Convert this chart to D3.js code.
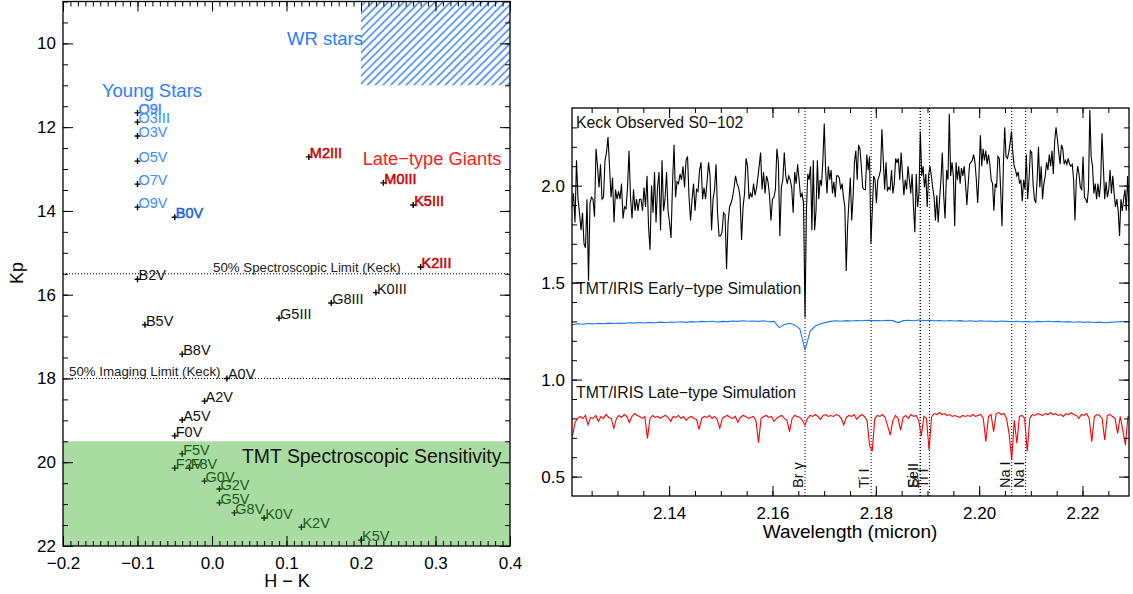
<!DOCTYPE html>
<html>
<head>
<meta charset="utf-8">
<script src="https://cdn.jsdelivr.net/npm/d3@7"></script>
<style>
  body { margin: 0; background: #fff; }
  text { font-family: "Liberation Sans", Arial, Helvetica, sans-serif; }
</style>
</head>
<body>
<svg width="1133" height="594"></svg>
<script>
// ---------- left panel data: colour (H-K) vs Kp ----------
const starNames = ["O9I","O3III","O3V","O5V","O7V","O9V","B0V",
                   "M2III","M0III","K5III","K2III",
                   "B2V","K0III","G8III","G5III","B5V","B8V","A0V","A2V","A5V","F0V",
                   "F5V","F2V","F8V","G0V","G2V","G5V","G8V","K0V","K2V","K5V"]
const starHK    = [-0.1,-0.1,-0.1,-0.1,-0.1,-0.1,-0.05,
                   0.13,0.23,0.27,0.28,
                   -0.1,0.22,0.16,0.09,-0.09,-0.04,0.02,-0.01,-0.04,-0.05,
                   -0.04,-0.05,-0.03,-0.01,0.01,0.01,0.03,0.07,0.12,0.2]
const starKp    = [11.66,11.88,12.21,12.81,13.36,13.91,14.15,
                   12.71,13.33,13.86,15.34,
                   15.63,15.95,16.2,16.56,16.72,17.42,18.0,18.54,18.99,19.37,
                   19.8,20.14,20.14,20.45,20.64,20.97,21.21,21.33,21.55,21.86]
const starGroup = ["young","young","young","young","young","young","young",
                   "giant","giant","giant","giant",
                   "field","field","field","field","field","field","field","field","field","field",
                   "tmt","tmt","tmt","tmt","tmt","tmt","tmt","tmt","tmt","tmt"]
const spectroLimitKp = 15.5
const imagingLimitKp = 18.0
const tmtLimitKp = 19.5
const wrHK = [0.2, 0.4], wrKp = [9, 11]
const hkTicks = [-0.2, -0.1, 0, 0.1, 0.2, 0.3, 0.4]
const kpTicks = [10, 12, 14, 16, 18, 20, 22]

// ---------- right panel data: K-band spectra ----------
// Keck observed S0-102
const keckFlux = [
 1.89,1.96,1.81,2.13,1.93,1.86,1.77,1.86,1.70,1.68,1.93,1.51,1.91,1.94,1.93,1.84,2.19,2.10,1.99,2.11,
 1.93,1.94,2.13,2.17,2.25,2.10,1.94,2.04,1.81,1.98,1.93,1.97,1.93,2.01,1.83,1.89,1.88,1.99,2.18,1.94,
 1.83,1.98,1.87,1.93,1.87,1.93,1.93,1.87,1.99,1.89,2.05,1.79,1.67,2.00,1.86,2.07,1.81,1.99,2.07,1.77,
 2.13,1.87,1.93,2.07,1.87,1.81,1.73,2.01,2.21,1.94,2.02,2.01,2.06,2.03,2.10,1.99,2.13,2.15,1.94,1.82,
 1.93,2.01,1.87,1.98,1.97,2.08,2.12,1.93,1.99,1.93,2.02,2.12,2.05,1.77,1.93,1.98,2.11,1.86,1.74,1.74,
 1.76,1.86,1.85,1.57,1.81,1.89,1.91,1.94,1.99,2.05,2.01,1.99,1.94,1.72,1.89,1.96,2.14,2.10,1.93,1.96,
 1.94,2.01,1.95,1.99,2.05,2.12,
 2.17,1.98,2.07,1.96,2.05,2.02,1.95,1.82,1.93,1.94,1.98,2.19,2.12,1.74,1.99,2.03,2.17,2.05,2.01,2.05,
 2.03,1.99,1.86,2.07,2.01,2.11,2.03,1.94,1.96,1.91,1.32,
 1.87,2.06,2.03,2.10,1.77,2.13,1.77,1.87,2.13,1.93,2.03,2.00,2.13,2.32,2.08,1.96,2.10,2.03,2.08,
 1.96,2.02,1.94,2.05,2.05,2.04,1.98,2.01,1.94,1.89,1.56,1.79,1.92,2.04,1.82,1.94,2.12,2.18,2.03,2.21,
 2.19,2.10,1.99,1.98,1.98,2.16,2.08,2.15,1.70,1.87,2.05,2.03,1.91,2.03,2.05,2.08,2.29,2.13,1.98,2.12,
 1.97,1.99,1.98,2.08,1.96,2.01,2.14,2.12,2.14,2.03,2.17,2.06,1.95,2.03,1.98,2.10,2.03,1.96,2.06,1.89,
 1.76,2.06,1.89,1.96,2.28,2.05,2.10,1.99,2.06,1.89,2.05,2.10,2.05,1.99,1.94,1.82,1.95,1.81,1.93,2.03,
 2.17,1.95,1.83,
 2.08,2.03,2.37,2.05,2.12,2.05,1.79,2.12,2.03,2.10,2.01,2.09,2.05,2.10,2.01,1.90,2.01,2.11,2.12,2.13,
 2.16,2.12,2.03,1.91,2.06,2.26,2.10,2.19,2.13,2.18,2.11,2.16,2.11,2.03,2.01,1.87,2.01,1.99,2.15,2.14,
 1.98,1.79,2.10,2.30,2.15,2.14,2.17,2.22,2.28,2.17,2.10,2.08,2.05,2.07,2.01,2.03,1.92,2.03,1.98,2.16,
 1.93,2.03,2.18,2.17,2.01,1.93,1.91,2.03,2.20,1.99,2.10,1.93,2.01,2.05,2.12,2.08,2.16,2.10,2.18,2.06,
 2.23,2.30,2.24,2.17,2.11,2.21,2.19,2.11,2.13,2.11,2.14,2.11,2.10,2.11,2.03,1.82,2.03,2.10,2.06,1.99,
 1.98,2.15,1.94,1.93,1.91,1.98,2.39,2.15,2.10,1.96,2.01,1.93,2.01,1.94,2.01,2.27,2.10,1.93,2.02,1.94,
 1.98,2.08,1.96,2.05,1.96,1.89,1.93,1.87,1.74,1.93,1.87,1.93,1.98,1.87,2.05,1.87]
// wavelength calibration points of the Keck spectrum (sample index -> micron)
const keckCalIndex = [0, 125, 126, 156, 258, 259, 394]
const keckCalWave  = [2.1212, 2.1575, 2.1577, 2.1663, 2.1934, 2.1937, 2.2290]

// TMT/IRIS early-type simulation, sampled every 0.001 micron
const earlyStart = 2.1213, earlyStep = 0.001
const earlyFlux = [
 1.283,1.288,1.285,1.289,1.287,1.290,1.288,1.291,1.289,1.292,
 1.290,1.293,1.291,1.294,1.292,1.295,1.293,1.296,1.294,1.297,
 1.296,1.298,1.295,1.299,1.297,1.300,1.298,1.301,1.297,1.300,
 1.299,1.302,1.300,1.303,1.301,1.302,1.300,1.303,1.298,1.300,
 1.268,1.284,1.290,1.282,1.262,1.152,1.250,1.276,1.288,1.295,
 1.300,1.303,1.301,1.304,1.302,1.305,1.303,1.306,1.304,1.305,
 1.303,1.306,1.304,1.294,1.304,1.306,1.303,1.307,1.304,1.306,
 1.303,1.305,1.302,1.305,1.302,1.304,1.301,1.303,1.300,1.303,
 1.301,1.302,1.299,1.302,1.300,1.298,1.301,1.298,1.300,1.297,
 1.300,1.298,1.301,1.298,1.300,1.297,1.299,1.296,1.298,1.295,
 1.297,1.294,1.296,1.293,1.295,1.297,1.299,1.298,1.300]

// TMT/IRIS late-type simulation, sampled every 0.0005 micron
const lateStart = 2.1213, lateStep = 0.0005
const lateFlux = [
 0.71,0.78,0.80,0.81,0.80,0.815,0.766,0.805,0.80,0.815,
 0.785,0.81,0.80,0.82,0.805,0.80,0.749,0.80,0.815,0.805,
 0.82,0.81,0.78,0.81,0.825,0.815,0.81,0.80,0.81,0.697,
 0.80,0.815,0.805,0.81,0.80,0.81,0.815,0.805,0.785,0.81,
 0.805,0.815,0.80,0.81,0.79,0.805,0.81,0.80,0.795,0.744,
 0.80,0.81,0.805,0.815,0.80,0.81,0.795,0.749,0.80,0.81,
 0.815,0.805,0.80,0.81,0.78,0.805,0.815,0.81,0.80,0.805,
 0.81,0.79,0.675,0.80,0.81,0.815,0.805,0.81,0.785,0.80,
 0.81,0.815,0.80,0.79,0.732,0.80,0.815,0.81,0.805,0.79,
 0.766,0.80,0.815,0.81,0.82,0.81,0.795,0.815,0.82,0.81,
 0.815,0.81,0.82,0.815,0.80,0.766,0.805,0.815,0.81,0.82,
 0.795,0.81,0.82,0.81,0.79,0.66,0.63,0.80,0.815,0.81,
 0.82,0.805,0.76,0.714,0.79,0.815,0.80,0.74,0.805,0.815,
 0.80,0.82,0.81,0.815,0.79,0.709,0.81,0.80,0.637,0.81,
 0.825,0.82,0.83,0.82,0.825,0.815,0.82,0.81,0.815,0.81,
 0.805,0.815,0.81,0.815,0.81,0.82,0.81,0.815,0.82,0.80,
 0.68,0.81,0.82,0.732,0.825,0.83,0.82,0.825,0.80,0.72,
 0.586,0.79,0.672,0.81,0.815,0.80,0.629,0.80,0.82,0.815,
 0.825,0.82,0.815,0.825,0.82,0.83,0.82,0.825,0.815,0.82,
 0.81,0.825,0.82,0.83,0.82,0.815,0.80,0.82,0.815,0.825,
 0.80,0.68,0.81,0.82,0.815,0.80,0.689,0.815,0.82,0.81,
 0.80,0.723,0.81,0.74,0.663,0.81,0.81]

const lineWaves = [2.1663, 2.1791, 2.1886, 2.1886, 2.1904, 2.2063, 2.2090]
const lineNames = ["Br \u03b3", "Ti I", "Fe I", "Si I", "Ti I", "Na I", "Na I"]
const waveTicks = [2.14, 2.16, 2.18, 2.20, 2.22]
const fluxTicks = [0.5, 1.0, 1.5, 2.0]

// ---------- drawing ----------
const svg = d3.select("svg")
svg.append("rect").attr("width", 1133).attr("height", 594).attr("fill", "#fff")

const defs = svg.append("defs")
defs.append("pattern")
    .attr("id", "hatch")
    .attr("patternUnits", "userSpaceOnUse")
    .attr("width", 5.5).attr("height", 5.5)
    .attr("patternTransform", "rotate(45)")
  .append("line")
    .attr("x1", 1).attr("y1", 0).attr("x2", 1).attr("y2", 5.5)
    .attr("stroke", "#2a7dff").attr("stroke-width", 1.4)

// draw inward ticks on all four sides of a frame
function drawFrame(g, x, y, xMajor, xMinor, yMajor, yMinor, xFmt, yFmt) {
  const [x0, x1] = x.range(), [y1, y0] = y.range().slice().sort((a, b) => b - a)
  const clean = s => s.select(".domain").remove()
  const style = s => {
    s.selectAll("line").attr("stroke", "#000").attr("stroke-width", 1)
    s.selectAll("text").attr("fill", "#000").attr("font-size", 17)
      .attr("font-family", "Liberation Sans, Arial, sans-serif")
  }
  g.append("g").attr("transform", `translate(0,${y1})`)
    .call(d3.axisBottom(x).tickValues(xMajor).tickSize(-10).tickPadding(11).tickFormat(xFmt)).call(clean).call(style)
  g.append("g").attr("transform", `translate(0,${y1})`)
    .call(d3.axisBottom(x).tickValues(xMinor).tickSize(-5).tickFormat("")).call(clean).call(style)
  g.append("g").attr("transform", `translate(0,${y0})`)
    .call(d3.axisTop(x).tickValues(xMajor).tickSize(-10).tickFormat("")).call(clean).call(style)
  g.append("g").attr("transform", `translate(0,${y0})`)
    .call(d3.axisTop(x).tickValues(xMinor).tickSize(-5).tickFormat("")).call(clean).call(style)
  g.append("g").attr("transform", `translate(${x0},0)`)
    .call(d3.axisLeft(y).tickValues(yMajor).tickSize(-10).tickPadding(7).tickFormat(yFmt)).call(clean).call(style)
  g.append("g").attr("transform", `translate(${x0},0)`)
    .call(d3.axisLeft(y).tickValues(yMinor).tickSize(-5).tickFormat("")).call(clean).call(style)
  g.append("g").attr("transform", `translate(${x1},0)`)
    .call(d3.axisRight(y).tickValues(yMajor).tickSize(-10).tickFormat("")).call(clean).call(style)
  g.append("g").attr("transform", `translate(${x1},0)`)
    .call(d3.axisRight(y).tickValues(yMinor).tickSize(-5).tickFormat("")).call(clean).call(style)
  g.append("rect").attr("x", x0).attr("y", y0).attr("width", x1 - x0).attr("height", y1 - y0)
    .attr("fill", "none").attr("stroke", "#000").attr("stroke-width", 1.3)
}

// ----- left panel -----
const xL = d3.scaleLinear().domain([-0.2, 0.4]).range([63, 510])
const yL = d3.scaleLinear().domain([9, 22]).range([1.5, 546])
const left = svg.append("g")

// TMT sensitivity region
left.append("rect")
  .attr("x", xL(-0.2)).attr("y", yL(tmtLimitKp))
  .attr("width", xL(0.4) - xL(-0.2)).attr("height", yL(22) - yL(tmtLimitKp))
  .attr("fill", "#a9dca0")
// WR stars region
left.append("rect")
  .attr("x", xL(wrHK[0])).attr("y", yL(wrKp[0]))
  .attr("width", xL(wrHK[1]) - xL(wrHK[0])).attr("height", yL(wrKp[1]) - yL(wrKp[0]))
  .attr("fill", "url(#hatch)")

// limits
left.selectAll(".limit")
    .data([spectroLimitKp, imagingLimitKp])
  .enter().append("line")
    .attr("x1", xL(-0.2)).attr("x2", xL(0.4))
    .attr("y1", d => yL(d)).attr("y2", d => yL(d))
    .attr("stroke", "#000").attr("stroke-width", 1).attr("stroke-dasharray", "1,2")
left.append("text").attr("x", 213).attr("y", yL(spectroLimitKp) - 2)
  .attr("font-size", 13.3).attr("fill", "#222").text("50% Spectroscopic Limit (Keck)")
left.append("text").attr("x", 69).attr("y", yL(imagingLimitKp) - 2)
  .attr("font-size", 13.3).attr("fill", "#222").text("50% Imaging Limit (Keck)")

// region labels
left.append("text").attr("x", 152).attr("y", 97).attr("text-anchor", "middle")
  .attr("font-size", 18.5).attr("fill", "#2a7dff").text("Young Stars")
left.append("text").attr("x", 363).attr("y", 45).attr("text-anchor", "end")
  .attr("font-size", 18.5).attr("fill", "#2a7dff").text("WR stars")
left.append("text").attr("x", 432).attr("y", 165).attr("text-anchor", "middle")
  .attr("font-size", 18.3).attr("fill", "#ff1a1a").text("Late\u2212type Giants")
left.append("text").attr("x", 242).attr("y", 463)
  .attr("font-size", 19.4).attr("fill", "#111").text("TMT Spectroscopic Sensitivity")

const stars = starNames.map((n, i) => ({name: n, hk: starHK[i], kp: starKp[i], group: starGroup[i]}))
const labelColor = {young: "#3b8cff", giant: "#cc0000", field: "#111", tmt: "#1d5a1d"}
const boldNames = ["O9I", "B0V", "M2III", "M0III", "K5III", "K2III"]

left.selectAll(".mark")
    .data(stars)
  .enter().append("path")
    .attr("transform", d => `translate(${xL(d.hk)},${yL(d.kp)})`)
    .attr("d", "M-3,0H3M0,-3V3")
    .attr("stroke", d => d.group == "tmt" ? "#123812" : "#000")
    .attr("stroke-width", 1.4)

left.selectAll(".lab")
    .data(stars)
  .enter().append("text")
    .attr("x", d => xL(d.hk) + 1)
    .attr("y", d => yL(d.kp) + 1)
    .attr("font-size", 14.5)
    .attr("fill", d => d.name == "B0V" ? "#1c64d8" : labelColor[d.group])
    .attr("stroke", d => boldNames.includes(d.name) ? (d.name == "B0V" ? "#1c64d8" : labelColor[d.group]) : "none")
    .attr("stroke-width", 0.5)
    .text(d => d.name)

drawFrame(left, xL, yL, hkTicks, d3.range(-20, 41).map(v => v / 100), kpTicks,
          d3.range(18, 45).map(v => v / 2), d3.format(".1f"), d3.format("d"))

left.append("text").attr("x", 287).attr("y", 587).attr("text-anchor", "middle")
  .attr("font-size", 18).text("H \u2212 K")
left.append("text").attr("transform", "translate(23,273) rotate(-90)").attr("text-anchor", "middle")
  .attr("font-size", 18).text("Kp")

// ----- right panel -----
const xR = d3.scaleLinear().domain([2.1212, 2.2290]).range([572, 1129])
const yR = d3.scaleLinear().domain([0.4, 2.4]).range([496, 108])
const right = svg.append("g")
right.append("clipPath").attr("id", "clipR")
  .append("rect").attr("x", 572).attr("y", 108).attr("width", 557).attr("height", 388)

const keckWave = d3.scaleLinear().domain(keckCalIndex).range(keckCalWave)
const line = d3.line().x(d => xR(d[0])).y(d => yR(d[1]))

const plot = right.append("g").attr("clip-path", "url(#clipR)")

plot.selectAll(".feature")
    .data(lineWaves)
  .enter().append("line")
    .attr("x1", d => xR(d)).attr("x2", d => xR(d))
    .attr("y1", 108).attr("y2", 496)
    .attr("stroke", "#000").attr("stroke-width", 1).attr("stroke-dasharray", "1,2")

plot.append("path")
  .datum(keckFlux.map((f, i) => [keckWave(i), f]))
  .attr("d", line).attr("fill", "none").attr("stroke", "#000").attr("stroke-width", 1.1)
plot.append("path")
  .datum(earlyFlux.map((f, i) => [earlyStart + i * earlyStep, f]))
  .attr("d", line).attr("fill", "none").attr("stroke", "#1e78ff").attr("stroke-width", 1.1)
plot.append("path")
  .datum(lateFlux.map((f, i) => [lateStart + i * lateStep, f]))
  .attr("d", line).attr("fill", "none").attr("stroke", "#ff0000").attr("stroke-width", 1.1)

right.selectAll(".flab")
    .data(lineWaves.map((w, i) => ({w: w, name: lineNames[i]})))
  .enter().append("text")
    .attr("transform", d => `translate(${xR(d.w) - 2},488) rotate(-90)`)
    .attr("font-size", 14.5).attr("fill", "#111")
    .text(d => d.name)

right.append("text").attr("x", 576).attr("y", 128).attr("font-size", 15.8).attr("fill", "#111")
  .text("Keck Observed S0\u2212102")
right.append("text").attr("x", 576).attr("y", 294).attr("font-size", 15.8).attr("fill", "#111")
  .text("TMT/IRIS Early\u2212type Simulation")
right.append("text").attr("x", 576).attr("y", 398).attr("font-size", 15.8).attr("fill", "#111")
  .text("TMT/IRIS Late\u2212type Simulation")

drawFrame(right, xR, yR, waveTicks, d3.range(425, 446).map(v => v / 200), fluxTicks,
          d3.range(5, 24).map(v => v / 10), d3.format(".2f"), d3.format(".1f"))

right.append("text").attr("x", 850).attr("y", 538).attr("text-anchor", "middle")
  .attr("font-size", 19).text("Wavelength (micron)")
</script>
</body>
</html>
